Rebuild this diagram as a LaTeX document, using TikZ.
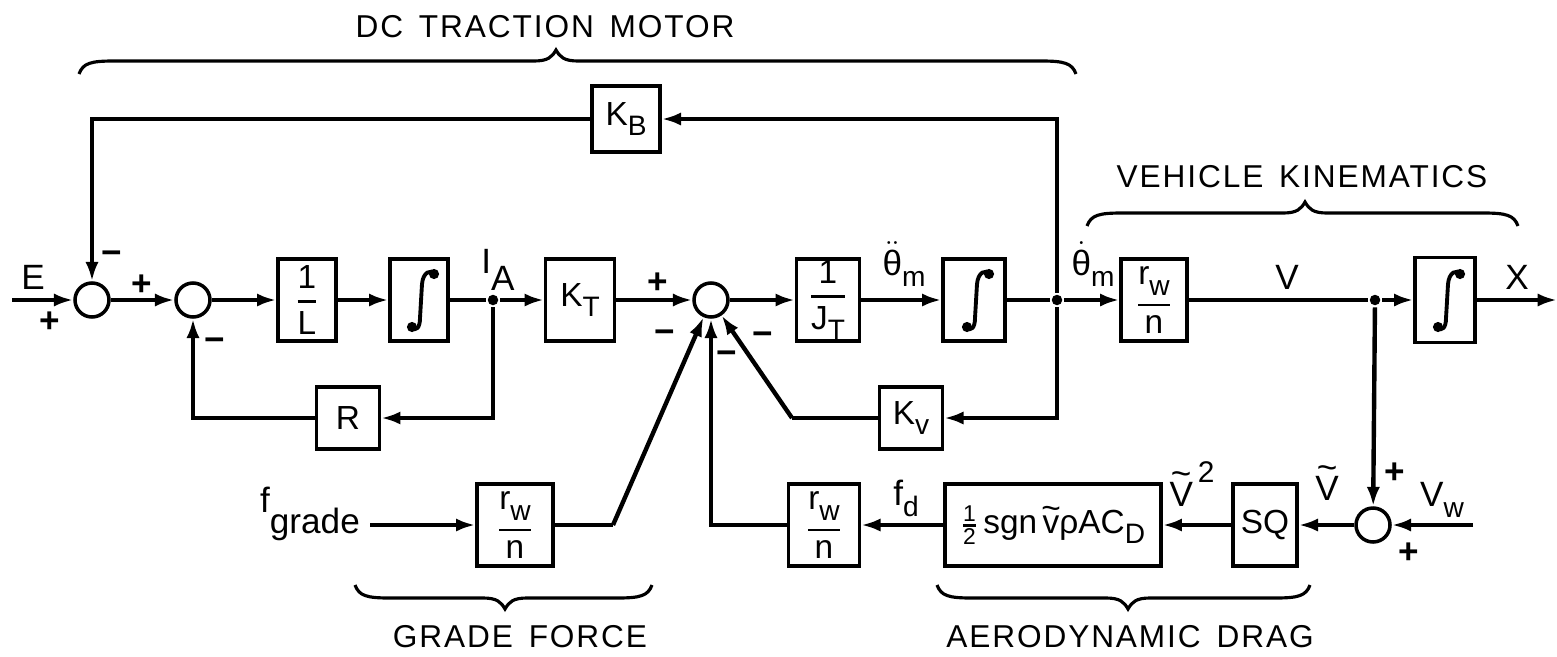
\documentclass[tikz,border=0pt]{standalone}
\usepackage{amsmath}
\usepackage{fontspec}
\setmainfont{Liberation Sans}
\newfontfamily\hdrfont[LetterSpace=6]{Liberation Sans}
\usetikzlibrary{arrows.meta}
\newcommand\lsb[1]{\raisebox{-0.6ex}{\fontsize{16}{16}\selectfont #1}}
\newcommand\frc[2]{$\genfrac{}{}{1.6pt}{0}{\mbox{#1}}{\mbox{#2}}$}
\newcommand\tld[2]{\leavevmode\ooalign{#1\cr\hidewidth\raisebox{#2}{\char"7E}\hidewidth\cr}}
\newcommand\tbrace[4]{\draw[brc] (#1,#4+13) .. controls (#1+4,#4+2) and (#1+12,#4) .. (#1+35,#4) -- (#3-22,#4) .. controls (#3-8,#4) and (#3-4,#4-4) .. (#3,#4-11) .. controls (#3+4,#4-4) and (#3+8,#4) .. (#3+22,#4) -- (#2-35,#4) .. controls (#2-12,#4) and (#2-4,#4+2) .. (#2,#4+13);}
\newcommand\bbrace[4]{\draw[brc] (#1,#4-13) .. controls (#1+4,#4-2) and (#1+12,#4) .. (#1+35,#4) -- (#3-22,#4) .. controls (#3-8,#4) and (#3-4,#4+4) .. (#3,#4+11) .. controls (#3+4,#4+4) and (#3+8,#4) .. (#3+22,#4) -- (#2-35,#4) .. controls (#2-12,#4) and (#2-4,#4-2) .. (#2,#4-13);}
\tikzset{
  integ/.pic={
    \draw[line width=2.2pt] (-7,28) .. controls (-3,31) and (1,28) .. (1,18) -- (3,-16) .. controls (4,-28) and (12,-31) .. (15,-26);
    \fill (-7,27) circle[radius=2.9pt];
    \fill (15,-26) circle[radius=2.9pt];
  }
}
\begin{document}
\begin{tikzpicture}[x=0.02cm,y=-0.02cm,
  line width=2.5pt,
  blk/.style={draw,line width=1.9pt,inner sep=0pt,minimum height=1.64cm,font=\fontsize{19}{19}\selectfont},
  sumn/.style={draw,circle,line width=2pt,minimum size=0.68cm,inner sep=0pt},
  arr/.style={-{Latex[length=11pt,width=7.5pt]}},
  jdot/.style={circle,fill,minimum size=0.21cm,inner sep=0pt},
  lbl/.style={font=\fontsize{20}{20}\selectfont,inner sep=0pt},
  sgn/.style={font=\fontsize{20}{20}\selectfont\bfseries,inner sep=0pt},
  hdr/.style={font=\fontsize{18}{18}\selectfont\hdrfont,inner sep=0pt},
  brc/.style={line width=1.8pt}
]
\useasboundingbox (0,0) rectangle (1557,656);
% main row
\coordinate (in) at (12,300);
\node[sumn] (s1) at (92,300) {};
\node[sumn] (s2) at (193,300) {};
\node[blk,minimum width=1.16cm] (bL) at (307,300) {\frc{1}{L}};
\node[blk,minimum width=1.16cm] (bI1) at (419,300) {};
\pic at (bI1) {integ};
\node[jdot] (jA) at (493,300) {};
\node[blk,minimum width=1.38cm] (bKT) at (580,300) {K\lsb{T}};
\node[sumn] (s3) at (711,300) {};
\node[blk,minimum width=1.26cm] (bJT) at (828,300) {\frc{1}{J\lsb{T}}};
\node[blk,minimum width=1.24cm] (bI2) at (974,300) {};
\pic at (bI2) {integ};
\node[jdot] (jT) at (1057,300) {};
\node[blk,minimum width=1.32cm] (bRW) at (1154,300) {\frc{r\lsb{w}}{n}};
\node[jdot] (jV) at (1375,300) {};
\node[blk,minimum width=1.2cm,minimum height=1.7cm] (bI3) at (1445,300) {};
\pic at (bI3) {integ};
\coordinate (out) at (1557,300);
% feedback blocks
\node[blk,minimum width=1.36cm,minimum height=1.32cm] (bKB) at (626,119) {K\lsb{B}};
\node[blk,minimum width=1.26cm,minimum height=1.24cm] (bR) at (348,418) {R};
\node[blk,minimum width=1.26cm,minimum height=1.24cm] (bKV) at (911,418) {K\lsb{v}};
\coordinate (kvc) at (792,418);
% bottom row
\node[lbl,anchor=east] (fg) at (362,514) {f\raisebox{-1.1ex}{grade}};
\coordinate (fgs) at (370,525);
\node[blk,minimum width=1.52cm] (bG) at (515,525) {\frc{r\lsb{w}}{n}};
\coordinate (gc) at (613,525);
\node[blk,minimum width=1.42cm] (bR2) at (824,525) {\frc{r\lsb{w}}{n}};
\node[blk,minimum width=4.32cm] (bA) at (1053,525) {$\genfrac{}{}{1.2pt}{1}{\mbox{\fontsize{13}{13}\selectfont 1}}{\mbox{\fontsize{13}{13}\selectfont 2}}$\,sgn\,\tld{v}{0.4em}ρAC\lsb{D}};
\node[blk,minimum width=1.28cm] (bSQ) at (1265,525) {SQ};
\node[sumn] (s4) at (1373,525) {};
\coordinate (vw) at (1473,525);
% connectors main row
\draw[arr] (in) -- (s1);
\draw[arr] (s1) -- (s2);
\draw[arr] (s2) -- (bL);
\draw[arr] (bL) -- (bI1);
\draw (bI1) -- (jA);
\draw[arr] (jA) -- (bKT);
\draw[arr] (bKT) -- (s3);
\draw[arr] (s3) -- (bJT);
\draw[arr] (bJT) -- (bI2);
\draw (bI2) -- (jT);
\draw[arr] (jT) -- (bRW);
\draw (bRW) -- (jV);
\draw[arr] (jV) -- (bI3);
\draw[arr] (bI3) -- (out);
% feedback loops
\draw[arr] (jT) |- (bKB);
\draw[arr] (bKB) -| (s1);
\draw[arr] (jA) |- (bR);
\draw[arr] (bR) -| (s2);
\draw[arr] (jT) |- (bKV);
\draw (bKV) -- (kvc);
\draw[arr] (kvc) -- (s3);
% bottom connectors
\draw[arr] (fgs) -- (bG);
\draw (bG) -- (gc);
\draw[arr] (gc) -- (s3);
\draw[arr] (bR2) -| (s3);
\draw[arr] (bA) -- (bR2);
\draw[arr] (bSQ) -- (bA);
\draw[arr] (s4) -- (bSQ);
\draw[arr] (vw) -- (s4);
\draw[arr] (jV) -- (s4);
% labels
\node[lbl] (lE) at (33,277) {E};
\node[lbl] (lIA) at (498,270) {I\raisebox{-0.9ex}{A}};
\node[lbl] (lth2) at (904,264) {$\ddot{\mbox{θ}}$\lsb{m}};
\node[lbl] (lth1) at (1093,264) {$\dot{\mbox{θ}}$\lsb{m}};
\node[lbl] (lV) at (1287,277) {V};
\node[lbl] (lX) at (1517,277) {X};
\node[lbl] (lVw) at (1442,500) {V\lsb{w}};
\node[lbl] (lVt) at (1327,488) {\tld{V}{0.6em}};
\node[lbl] (lVt2) at (1192,484) {\tld{V}{0.6em}\raisebox{1.3ex}{\fontsize{17}{17}\selectfont\,2}};
\node[lbl] (lfd) at (906,498) {f\lsb{d}};
% signs
\node[sgn] (p1) at (50,322) {+};
\node[sgn] (m1) at (112,258) {−};
\node[sgn] (p2) at (142,285) {+};
\node[sgn] (m2) at (215,345) {−};
\node[sgn] (p3) at (658,283) {+};
\node[sgn] (m3) at (665,337) {−};
\node[sgn] (m4) at (727,358) {−};
\node[sgn] (m5) at (763,339) {−};
\node[sgn] (p4) at (1395,473) {+};
\node[sgn] (p5) at (1409,553) {+};
% braces and headings
\tbrace{79}{1076}{556}{61}
\node[hdr] (hDC) at (545,27) {DC\hspace{0.5em}TRACTION\hspace{0.5em}MOTOR};
\tbrace{1087}{1518}{1305}{213}
\node[hdr] (hVK) at (1302,177) {VEHICLE\hspace{0.5em}KINEMATICS};
\bbrace{355}{652}{505}{598}
\node[hdr] (hGF) at (520,637) {GRADE\hspace{0.5em}FORCE};
\bbrace{937}{1310}{1128}{598}
\node[hdr] (hAD) at (1130,637) {AERODYNAMIC\hspace{0.5em}DRAG};
\end{tikzpicture}
\end{document}
